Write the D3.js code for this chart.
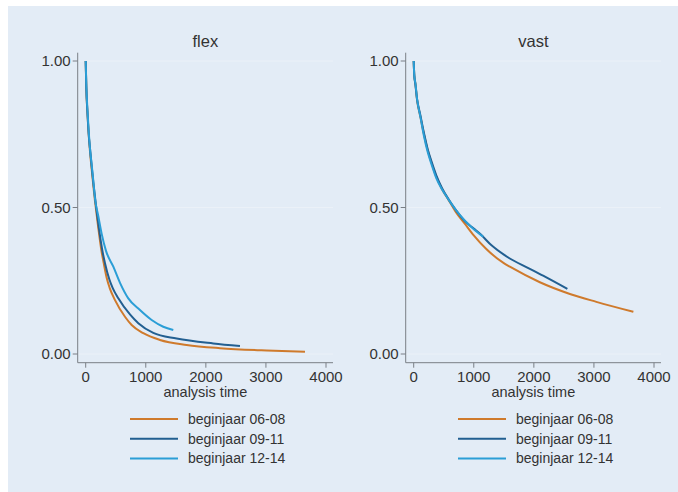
<!DOCTYPE html>
<html>
<head>
<meta charset="utf-8">
<script src="https://cdn.jsdelivr.net/npm/d3@7"></script>
<style>
  body { margin: 0; background: #fff; }
  text { font-family: "Liberation Sans", Arial, sans-serif; fill: #333; }
</style>
</head>
<body>
<div id="chart"></div>
<script>
// panels and series
var panels = ["flex", "vast"];
var series = ["beginjaar 06-08", "beginjaar 09-11", "beginjaar 12-14"];
var colors = ["#cf7a2c", "#225f91", "#2b9ed6"];
var xTicks = [0, 1000, 2000, 3000, 4000];
var yTicks = [0, 0.5, 1];

// flex: analysis time / survival
var flexT1 = [0, 10, 30, 50, 72, 100, 127, 150, 171, 210, 260, 300, 349, 400, 488, 654, 765, 959, 1236, 1680, 2235, 3012, 3650];
var flexS1 = [1, 0.91, 0.82, 0.75, 0.69, 0.63, 0.575, 0.53, 0.495, 0.43, 0.355, 0.31, 0.26, 0.225, 0.184, 0.127, 0.099, 0.071, 0.048, 0.031, 0.020, 0.012, 0.008];
var flexT2 = [0, 10, 30, 50, 72, 100, 127, 150, 175, 226, 280, 321, 393, 450, 543, 737, 876, 1125, 1514, 2123, 2568];
var flexS2 = [1, 0.91, 0.82, 0.75, 0.70, 0.64, 0.585, 0.545, 0.50, 0.42, 0.35, 0.31, 0.255, 0.225, 0.19, 0.135, 0.105, 0.072, 0.053, 0.036, 0.027];
var flexT3 = [0, 10, 30, 50, 72, 100, 127, 155, 210, 266, 338, 460, 571, 709, 903, 1098, 1291, 1458];
var flexS3 = [1, 0.92, 0.83, 0.76, 0.70, 0.645, 0.59, 0.53, 0.47, 0.41, 0.352, 0.298, 0.243, 0.19, 0.15, 0.116, 0.093, 0.082];

// vast: analysis time / survival
var vastT1 = [0, 10, 28, 56, 111, 170, 232, 300, 376, 470, 580, 700, 857, 1000, 1200, 1500, 1600, 2100, 2600, 3040, 3657];
var vastS1 = [1, 0.95, 0.924, 0.867, 0.81, 0.75, 0.696, 0.65, 0.605, 0.563, 0.526, 0.485, 0.443, 0.405, 0.36, 0.31, 0.298, 0.245, 0.205, 0.178, 0.144];
var vastT2 = [0, 10, 28, 56, 111, 170, 232, 300, 376, 470, 580, 700, 857, 1000, 1105, 1300, 1600, 1900, 2200, 2558];
var vastS2 = [1, 0.95, 0.92, 0.87, 0.815, 0.755, 0.70, 0.655, 0.61, 0.567, 0.528, 0.492, 0.452, 0.428, 0.41, 0.37, 0.326, 0.294, 0.262, 0.222];
var vastT3 = [0, 10, 28, 56, 111, 170, 232, 300, 376, 470, 580, 700, 857, 1000, 1157];
var vastS3 = [1, 0.95, 0.925, 0.87, 0.81, 0.745, 0.69, 0.645, 0.60, 0.562, 0.527, 0.492, 0.454, 0.426, 0.40];

var data = {
  flex: [[flexT1, flexS1], [flexT2, flexS2], [flexT3, flexS3]],
  vast: [[vastT1, vastS1], [vastT2, vastS2], [vastT3, vastS3]]
};

var width = 678, height = 492;
var svg = d3.select("#chart").append("svg")
  .attr("width", width)
  .attr("height", height);

svg.append("rect")
  .attr("x", 8).attr("y", 6)
  .attr("width", width - 8).attr("height", height - 6)
  .attr("fill", "#e3ecf6");

var axisColor = "#7a7f86";

panels.forEach(function (name, p) {
  var off = p * 328;
  var x = d3.scaleLinear().domain([0, 4000]).range([85.7 + off, 326 + off]);
  var y = d3.scaleLinear().domain([0, 1]).range([354, 61]);
  var left = 77.7 + off, right = 333 + off, top = 52.7, bottom = 362.7;
  var g = svg.append("g");

  // faint grid
  g.selectAll(".grid").data(yTicks).enter().append("line")
    .attr("x1", left).attr("x2", right)
    .attr("y1", function (d) { return y(d); })
    .attr("y2", function (d) { return y(d); })
    .attr("stroke", "#ebf1f8").attr("stroke-width", 1);

  // axes lines
  g.append("line").attr("x1", left).attr("x2", left).attr("y1", top).attr("y2", bottom)
    .attr("stroke", axisColor).attr("stroke-width", 1);
  g.append("line").attr("x1", left).attr("x2", right).attr("y1", bottom).attr("y2", bottom)
    .attr("stroke", axisColor).attr("stroke-width", 1);

  // y ticks
  g.selectAll(".yt").data(yTicks).enter().append("line")
    .attr("x1", left - 5).attr("x2", left)
    .attr("y1", function (d) { return y(d); })
    .attr("y2", function (d) { return y(d); })
    .attr("stroke", axisColor);
  g.selectAll(".yl").data(yTicks).enter().append("text")
    .attr("x", left - 7)
    .attr("y", function (d) { return y(d); })
    .attr("dy", "0.36em")
    .attr("text-anchor", "end")
    .style("font-size", "15px")
    .text(function (d) { return d3.format(".2f")(d); });

  // x ticks
  g.selectAll(".xt").data(xTicks).enter().append("line")
    .attr("x1", function (d) { return x(d); })
    .attr("x2", function (d) { return x(d); })
    .attr("y1", bottom).attr("y2", bottom + 5)
    .attr("stroke", axisColor);
  g.selectAll(".xl").data(xTicks).enter().append("text")
    .attr("x", function (d) { return x(d); })
    .attr("y", bottom + 19.5)
    .attr("text-anchor", "middle")
    .style("font-size", "15px")
    .text(function (d) { return d; });

  // titles
  g.append("text")
    .attr("x", (left + right) / 2).attr("y", 47)
    .attr("text-anchor", "middle")
    .style("font-size", "16.5px")
    .text(name);
  g.append("text")
    .attr("x", (left + right) / 2).attr("y", 397)
    .attr("text-anchor", "middle")
    .style("font-size", "14.5px")
    .text("analysis time");

  // curves
  var line = d3.line()
    .curve(d3.curveMonotoneX)
    .x(function (d) { return x(d[0]); })
    .y(function (d) { return y(d[1]); });
  data[name].forEach(function (s, i) {
    var pts = s[0].map(function (t, k) { return [t, s[1][k]]; });
    g.append("path")
      .attr("d", line(pts))
      .attr("fill", "none")
      .attr("stroke", colors[i])
      .attr("stroke-width", 2)
      .attr("stroke-linejoin", "round");
  });

  // legend
  series.forEach(function (s, i) {
    var ly = 419 + i * 19.7;
    g.append("line")
      .attr("x1", 130 + off).attr("x2", 178 + off)
      .attr("y1", ly).attr("y2", ly)
      .attr("stroke", colors[i]).attr("stroke-width", 2);
    g.append("text")
      .attr("x", 188 + off).attr("y", ly)
      .attr("dy", "0.36em")
      .style("font-size", "14px")
      .text(s);
  });
});
</script>
</body>
</html>
